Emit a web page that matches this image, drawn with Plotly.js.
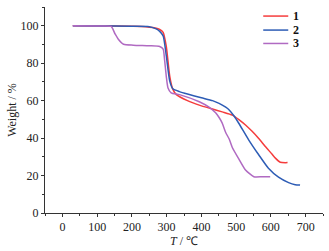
<!DOCTYPE html>
<html><head><meta charset="utf-8">
<script src="https://cdn.plot.ly/plotly-3.0.1.min.js"></script>
<style>html,body{margin:0;padding:0;background:#fff}#c{width:329px;height:251px}</style>
</head><body><div id="c"></div>
<script>
const names = ["1", "2", "3"];
const t1 = [30, 100, 200, 240, 260, 280, 290, 299, 309, 318, 328, 360, 394, 432, 460, 489, 508, 527, 546, 565, 584, 603, 613, 627, 648];
const w1 = [100, 99.9, 99.7, 99.5, 99, 98, 96.5, 89, 73, 66, 63.2, 60, 57.6, 55.5, 54, 52.3, 49.9, 47, 43.6, 39.8, 35.5, 31.5, 29.3, 27.1, 26.9];
const t2 = [30, 100, 200, 250, 270, 280, 290, 299, 309, 318, 337, 360, 400, 432, 451, 470, 480, 494, 508, 536, 565, 593, 622, 651, 670, 684];
const w2 = [100, 99.9, 99.7, 99.5, 98.3, 97, 94.6, 84, 70.4, 66.3, 64.8, 63.5, 61.5, 60, 58.5, 56.5, 55, 51.8, 47.8, 39.1, 31.1, 23.9, 19.1, 16.2, 15.1, 14.9];
const t3 = [30, 100, 140, 152, 161, 176, 204, 250, 280, 290, 294, 299, 304, 313, 337, 394, 422, 441, 451, 460, 470, 480, 489, 508, 527, 551, 575, 598];
const w3 = [100, 99.8, 99.6, 95.5, 92.8, 90.1, 89.6, 89.3, 88.9, 87.5, 82, 73, 66.8, 64.2, 63.2, 59.4, 56.5, 53.5, 51, 48, 43, 39.5, 35, 28.8, 23, 19.4, 19.4, 19.4];
const colors = ["#f53c3c", "#2d5cb5", "#b06ac2"];
const xs = [t1, t2, t3], ys = [w1, w2, w3];
const data = names.map((n, i) => ({
  x: xs[i], y: ys[i], name: n, type: "scatter", mode: "lines",
  line: {color: colors[i], width: 1.5, shape: "spline", smoothing: 0.6}
}));
const FAM = "Liberation Serif";
const fnt = {family: FAM, size: 12, color: "#222"};
// legend drawn as keys + labels in paper coordinates
const legY = [0.956, 0.888, 0.823];
const shapes = names.map((n, i) => ({type: "line", xref: "paper", yref: "paper",
  x0: 0.785, x1: 0.875, y0: legY[i], y1: legY[i], line: {color: colors[i], width: 1.5}}));
const annotations = names.map((n, i) => ({xref: "paper", yref: "paper", x: 0.884, y: legY[i],
  xanchor: "left", yanchor: "middle", text: "<b>" + n + "</b>", showarrow: false,
  font: {family: FAM, size: 12, color: "#111"}}));
const layout = {
  width: 329, height: 251,
  margin: {l: 45, r: 6, t: 7, b: 38},
  paper_bgcolor: "#fff", plot_bgcolor: "#fff",
  font: fnt, showlegend: false, shapes, annotations,
  xaxis: {range: [-50, 750], tickvals: [0, 100, 200, 300, 400, 500, 600, 700], showgrid: false, zeroline: false,
    showline: true, linecolor: "#333", linewidth: 1, ticks: "outside", ticklen: 3, tickcolor: "#333",
    minor: {dtick: 50, ticks: "outside", ticklen: 2, tickcolor: "#333", showgrid: false},
    title: {text: "<i>T</i> / ℃", font: fnt, standoff: 2}, tickfont: fnt},
  yaxis: {range: [0, 110], tickvals: [0, 20, 40, 60, 80, 100], showgrid: false, zeroline: false,
    showline: true, linecolor: "#333", linewidth: 1, ticks: "outside", ticklen: 3, tickcolor: "#333",
    minor: {dtick: 10, ticks: "outside", ticklen: 2, tickcolor: "#333", showgrid: false},
    title: {text: "Weight / %", font: fnt, standoff: 1}, tickfont: fnt}
};
Plotly.newPlot("c", data, layout, {displayModeBar: false, staticPlot: true});
</script></body></html>
